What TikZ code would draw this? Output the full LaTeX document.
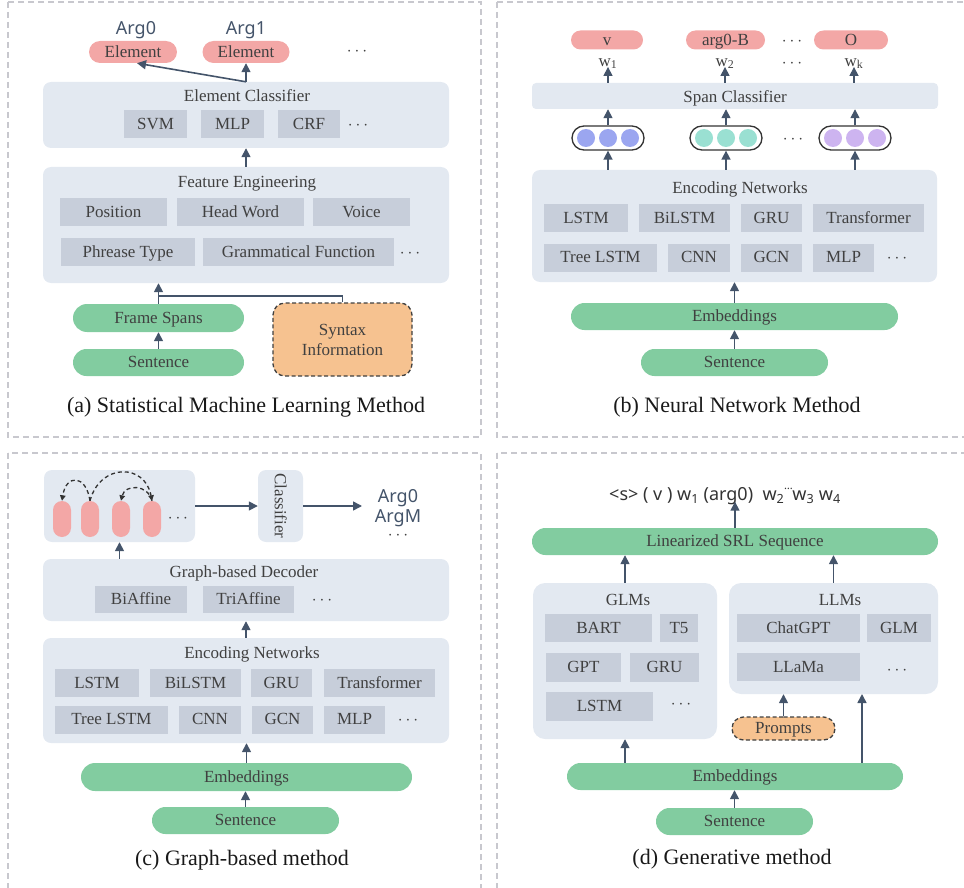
\documentclass[tikz,border=0pt]{standalone}
\usepackage{fontspec}
\setmainfont{Liberation Serif}
\newfontfamily\argfont{Noto Sans}
\usetikzlibrary{arrows.meta,shapes.misc}

\definecolor{panelcolor}{RGB}{227,233,241}
\definecolor{itemcolor}{RGB}{199,206,218}
\definecolor{pinkcolor}{RGB}{243,167,166}
\definecolor{greencolor}{RGB}{130,204,160}
\definecolor{orangecolor}{RGB}{246,194,144}
\definecolor{arrowcolor}{RGB}{68,84,106}
\definecolor{textcolor}{RGB}{64,64,64}
\definecolor{framecolor}{RGB}{200,200,206}
\definecolor{beadblue}{RGB}{155,166,240}
\definecolor{beadteal}{RGB}{154,224,210}
\definecolor{beadlilac}{RGB}{205,180,240}

\newlength{\du}
\setlength{\du}{1pt}

\tikzset{
  txt/.style={text=textcolor, font=\fontsize{17}{20}\selectfont, inner sep=0pt},
  lbl/.style={txt, text height=1.1em, text depth=0.05em},
  panelbox/.style={fill=panelcolor, rounded corners=8pt, inner sep=0pt},
  itembox/.style={lbl, fill=itemcolor, minimum height=28pt},
  pinkpill/.style={lbl, rounded rectangle, fill=pinkcolor, minimum height=19pt},
  greenpill/.style={lbl, rounded rectangle, fill=greencolor, minimum height=27pt},
  beadbox/.style={rounded rectangle, draw=black!80, line width=1.3pt, fill=white, minimum width=72pt, minimum height=24pt, inner sep=0pt},
  gnode/.style={fill=pinkcolor, rounded corners=9pt, minimum width=18pt, minimum height=36pt, inner sep=0pt},
  captext/.style={text=black!90, font=\fontsize{22}{26}\selectfont, inner sep=0pt, text height=1.1em, text depth=0.05em},
  argtext/.style={text=arrowcolor, font=\argfont\fontsize{18}{21}\selectfont, inner sep=0pt, text height=1em, text depth=0.1em},
  arr/.style={draw=arrowcolor, line width=1.6pt, -{Triangle[length=9pt,width=9pt]}},
  link/.style={draw=arrowcolor, line width=1.6pt},
  dasharr/.style={draw=black!80, line width=1.3pt, dash pattern=on 4pt off 3pt, -{Triangle[length=5.5pt,width=5.5pt]}},
  dashbox/.style={draw=black!75, line width=1.3pt, dash pattern=on 4pt off 2.5pt, fill=orangecolor},
  panelframe/.style={draw=framecolor, line width=1.2pt, dash pattern=on 6pt off 4pt},
}

\begin{document}
\begin{tikzpicture}
\pgftransformyscale{-1}
\useasboundingbox (0\du,0\du) rectangle (964\du,888\du);
% dashed frames of the four parts
\begin{scope}
\clip (0\du,0\du) rectangle (964\du,888\du);
\draw[panelframe] (8\du,2\du) rectangle (481\du,437\du);
\draw[panelframe] (497\du,2\du) rectangle (975\du,437\du);
\draw[panelframe] (8\du,453\du) rectangle (481\du,900\du);
\draw[panelframe] (497\du,453\du) rectangle (975\du,900\du);
\end{scope}

% (a) statistical machine learning
\node[argtext] (argA0) at (136\du,30\du) {Arg0};
\node[argtext] (argA1) at (246\du,30\du) {Arg1};
\node[pinkpill, minimum width=88pt, minimum height=22pt] (elemA1) at (133\du,52\du) {Element};
\node[pinkpill, minimum width=87pt, minimum height=22pt] (elemA2) at (246\du,52\du) {Element};
\node[lbl] (dotsA1) at (357\du,50\du) {$\cdots$};
\node[panelbox, minimum width=406pt, minimum height=66pt] (clsA) at (246\du,115\du) {};
\node[lbl] (clsAtitle) at (247\du,96\du) {Element Classifier};
\node[itembox, minimum width=63pt] (svmA) at (155.5\du,124\du) {SVM};
\node[itembox, minimum width=63pt] (mlpA) at (232.5\du,124\du) {MLP};
\node[itembox, minimum width=62pt] (crfA) at (309\du,124\du) {CRF};
\node[lbl] (dotsA2) at (358\du,124\du) {$\cdots$};
\node[panelbox, minimum width=406pt, minimum height=116pt] (feA) at (246\du,225\du) {};
\node[lbl] (feAtitle) at (247\du,182\du) {Feature Engineering};
\node[itembox, minimum width=107pt] (posA) at (113.5\du,212\du) {Position};
\node[itembox, minimum width=127pt] (headA) at (240.5\du,212\du) {Head Word};
\node[itembox, minimum width=97pt] (voiceA) at (361.5\du,212\du) {Voice};
\node[itembox, minimum width=134pt] (phrA) at (128\du,252\du) {Phrease Type};
\node[itembox, minimum width=191pt] (gramA) at (298.5\du,252\du) {Grammatical Function};
\node[lbl] (dotsA3) at (410\du,252\du) {$\cdots$};
\node[greenpill, minimum width=171pt, minimum height=28pt] (spansA) at (158.5\du,318\du) {Frame Spans};
\node[greenpill, minimum width=171pt] (sentA) at (158.5\du,362.5\du) {Sentence};
\node[txt, dashbox, rounded corners=12pt, align=center, minimum width=139pt, minimum height=73pt] (synA) at (342.5\du,339.5\du) {Syntax\\Information};
\node[captext] (capA) at (246\du,407\du) {(a) Statistical Machine Learning Method};
\coordinate (joinA) at (158.5\du,296\du);
\draw[arr] (sentA.north) -- (spansA.south);
\draw[arr] (spansA.north) -- (spansA.north |- feA.south);
\draw[link] (synA.north) |- (joinA);
\draw[arr] (feA.north) -- (clsA.south);
\draw[arr] (clsA.north) -- (elemA2.south);
\draw[arr] (clsA.north) -- ([xshift=4pt]elemA1.south);

% (b) neural network
\node[pinkpill, minimum width=72pt] (tagB1) at (607\du,40\du) {v};
\node[pinkpill, minimum width=79pt] (tagB2) at (725.5\du,40\du) {arg0-B};
\node[pinkpill, minimum width=74pt] (tagB3) at (851\du,40\du) {O};
\node[lbl] (dotsB1) at (792\du,40\du) {$\cdots$};
\node[lbl] (wB1) at (608\du,61\du) {w\textsubscript{1}};
\node[lbl] (wB2) at (725\du,61\du) {w\textsubscript{2}};
\node[lbl] (wB3) at (854\du,61\du) {w\textsubscript{k}};
\node[lbl] (dotsB2) at (792\du,62\du) {$\cdots$};
\node[panelbox, rounded corners=4pt, minimum width=406pt, minimum height=26pt] (spanB) at (735\du,96\du) {};
\node[lbl] (spanBtitle) at (735\du,97\du) {Span Classifier};
\node[beadbox] (beadB1) at (608\du,138\du) {};
\node[beadbox] (beadB2) at (726\du,138\du) {};
\node[beadbox] (beadB3) at (855\du,138\du) {};
\foreach \dx in {-22,0,22} {
  \fill[beadblue] ([xshift=\dx pt]beadB1.center) circle (9pt);
  \fill[beadteal] ([xshift=\dx pt]beadB2.center) circle (9pt);
  \fill[beadlilac] ([xshift=\dx pt]beadB3.center) circle (9pt);
}
\node[lbl] (dotsB3) at (793\du,138\du) {$\cdots$};
\node[panelbox, minimum width=405pt, minimum height=112pt] (encB) at (734.5\du,226\du) {};
\node[lbl] (encBtitle) at (740\du,188\du) {Encoding Networks};
\node[itembox, minimum width=84pt] (lstmB) at (586\du,218\du) {LSTM};
\node[itembox, minimum width=91pt] (bilstmB) at (684.5\du,218\du) {BiLSTM};
\node[itembox, minimum width=61pt] (gruB) at (771.5\du,218\du) {GRU};
\node[itembox, minimum width=111pt] (transB) at (868.5\du,218\du) {Transformer};
\node[itembox, minimum width=113pt] (treeB) at (600.5\du,257.5\du) {Tree LSTM};
\node[itembox, minimum width=62pt] (cnnB) at (699\du,257.5\du) {CNN};
\node[itembox, minimum width=61pt] (gcnB) at (771.5\du,257.5\du) {GCN};
\node[itembox, minimum width=61pt] (mlpB) at (843.5\du,257.5\du) {MLP};
\node[lbl] (dotsB4) at (897\du,257\du) {$\cdots$};
\node[greenpill, minimum width=327pt] (embB) at (734.5\du,316.5\du) {Embeddings};
\node[greenpill, minimum width=187pt] (sentB) at (734.5\du,362.5\du) {Sentence};
\node[captext] (capB) at (737\du,407\du) {(b) Neural Network Method};
\draw[arr] (sentB.north) -- (embB.south);
\draw[arr] (embB.north) -- (encB.south);
\draw[arr] (encB.north -| beadB1) -- (beadB1.south);
\draw[arr] (encB.north -| beadB2) -- (beadB2.south);
\draw[arr] (encB.north -| beadB3) -- (beadB3.south);
\draw[arr] (beadB1.north) -- (beadB1.north |- spanB.south);
\draw[arr] (beadB2.north) -- (beadB2.north |- spanB.south);
\draw[arr] (beadB3.north) -- (beadB3.north |- spanB.south);
\draw[arr] (spanB.north -| wB1) -- (wB1.south);
\draw[arr] (spanB.north -| wB2) -- (wB2.south);
\draw[arr] (spanB.north -| wB3) -- (wB3.south);

% (c) graph-based
\node[panelbox, minimum width=151pt, minimum height=72pt] (graphC) at (119.5\du,506\du) {};
\node[gnode] (gnC1) at (62\du,519\du) {};
\node[gnode] (gnC2) at (90\du,519\du) {};
\node[gnode] (gnC3) at (121\du,519\du) {};
\node[gnode] (gnC4) at (152\du,519\du) {};
\node[lbl] (dotsC1) at (178\du,517\du) {$\cdots$};
\draw[dasharr] (gnC2.north) .. controls (86\du,474\du) and (66\du,474\du) .. (gnC1.north);
\draw[dasharr] (gnC2.north) .. controls (100\du,463\du) and (145\du,463\du) .. (gnC4.north);
\draw[dasharr] (gnC4.north) .. controls (148\du,484\du) and (125\du,484\du) .. (gnC3.north);
\node[panelbox, minimum width=45pt, minimum height=72pt] (classC) at (280.5\du,506\du) {};
\node[lbl, rotate=-90] (classCtitle) at (280\du,506\du) {Classifier};
\coordinate (argCin) at (362\du,506\du);
\node[argtext] (argC0) at (398\du,498\du) {Arg0};
\node[argtext] (argCM) at (398\du,518\du) {ArgM};
\node[txt, text height=0.3em, text depth=0pt] (argCdots) at (398\du,538\du) {$\cdots$};
\node[panelbox, minimum width=406pt, minimum height=62pt] (decC) at (246\du,590\du) {};
\node[lbl] (decCtitle) at (244\du,572\du) {Graph-based Decoder};
\node[itembox, minimum width=92pt, minimum height=27pt] (biaffC) at (141\du,599.5\du) {BiAffine};
\node[itembox, minimum width=91pt, minimum height=27pt] (triaffC) at (248.5\du,599.5\du) {TriAffine};
\node[lbl] (dotsC2) at (322\du,599\du) {$\cdots$};
\node[panelbox, minimum width=406pt, minimum height=105pt] (encC) at (246\du,690.5\du) {};
\node[lbl] (encCtitle) at (252\du,653\du) {Encoding Networks};
\node[itembox, minimum width=84pt] (lstmC) at (97\du,683\du) {LSTM};
\node[itembox, minimum width=91pt] (bilstmC) at (195.5\du,683\du) {BiLSTM};
\node[itembox, minimum width=61pt] (gruC) at (281.5\du,683\du) {GRU};
\node[itembox, minimum width=111pt] (transC) at (379.5\du,683\du) {Transformer};
\node[itembox, minimum width=113pt] (treeC) at (111.5\du,719.5\du) {Tree LSTM};
\node[itembox, minimum width=62pt] (cnnC) at (210\du,719.5\du) {CNN};
\node[itembox, minimum width=61pt] (gcnC) at (282.5\du,719.5\du) {GCN};
\node[itembox, minimum width=61pt] (mlpC) at (354.5\du,719.5\du) {MLP};
\node[lbl] (dotsC3) at (408\du,719\du) {$\cdots$};
\node[greenpill, minimum width=331pt, minimum height=28pt] (embC) at (246.5\du,777\du) {Embeddings};
\node[greenpill, minimum width=187pt] (sentC) at (245.5\du,820.5\du) {Sentence};
\node[captext] (capC) at (242\du,860\du) {(c) Graph-based method};
\draw[arr] (graphC.east) -- (classC.west);
\draw[arr] (classC.east) -- (argCin);
\draw[arr] (decC.north -| graphC) -- (graphC.south);
\draw[arr] (encC.north) -- (decC.south);
\draw[arr] (embC.north) -- (embC.north |- encC.south);
\draw[arr] (sentC.north) -- (sentC.north |- embC.south);

% (d) generative
\node[txt, text=black!80, font=\argfont\fontsize{18}{21}\selectfont, text height=1em, text depth=0.1em] (seqD) at (725\du,496\du)
  {<s>~(~v~)~w\textsubscript{1}~(arg0)~~w\textsubscript{2}\hspace{4pt}\makebox[0pt]{\raisebox{0.6em}{\fontsize{11}{11}\selectfont\dots}}\hspace{4pt}w\textsubscript{3}~w\textsubscript{4}};
\node[greenpill, minimum width=406pt] (linD) at (735\du,541.5\du) {Linearized SRL Sequence};
\node[panelbox, rounded corners=12pt, minimum width=184pt, minimum height=156pt] (glmD) at (625\du,661\du) {};
\node[lbl] (glmDtitle) at (628\du,600\du) {GLMs};
\node[itembox, minimum width=107pt] (bartD) at (598.5\du,628\du) {BART};
\node[itembox, minimum width=38pt] (t5D) at (679\du,628\du) {T5};
\node[itembox, minimum width=75pt, minimum height=29pt] (gptD) at (583.5\du,667.5\du) {GPT};
\node[itembox, minimum width=69pt, minimum height=29pt] (gruD) at (664.5\du,667.5\du) {GRU};
\node[itembox, minimum width=107pt, minimum height=29pt] (lstmD) at (599.5\du,706.5\du) {LSTM};
\node[lbl] (dotsD1) at (681\du,703\du) {$\cdots$};
\node[panelbox, rounded corners=12pt, minimum width=209pt, minimum height=111pt] (llmD) at (833.5\du,638.5\du) {};
\node[lbl] (llmDtitle) at (840\du,600\du) {LLMs};
\node[itembox, minimum width=123pt] (chatD) at (798.5\du,628\du) {ChatGPT};
\node[itembox, minimum width=64pt] (glmitemD) at (899\du,628\du) {GLM};
\node[itembox, minimum width=123pt] (llamaD) at (798.5\du,667\du) {LLaMa};
\node[lbl] (dotsD2) at (897\du,669\du) {$\cdots$};
\node[lbl, dashbox, rounded rectangle, minimum width=103pt, minimum height=23pt] (promptD) at (783.5\du,728.5\du) {Prompts};
\node[greenpill, minimum width=336pt] (embD) at (735\du,776.5\du) {Embeddings};
\node[greenpill, minimum width=157pt] (sentD) at (734.5\du,821.5\du) {Sentence};
\node[captext] (capD) at (732\du,859\du) {(d) Generative method};
\coordinate (llmDin) at (862\du,694\du);
\draw[arr] (sentD.north) -- (sentD.north |- embD.south);
\draw[arr] (embD.north -| glmD) -- (glmD.south);
\draw[arr] (embD.north -| llmDin) -- (llmDin);
\draw[arr] (promptD.north) -- (promptD.north |- llmD.south);
\draw[arr] (glmD.north) -- (glmD.north |- linD.south);
\draw[arr] (llmD.north) -- (llmD.north |- linD.south);
\draw[arr] (linD.north) -- (linD.north |- seqD.south);
\end{tikzpicture}
\end{document}
